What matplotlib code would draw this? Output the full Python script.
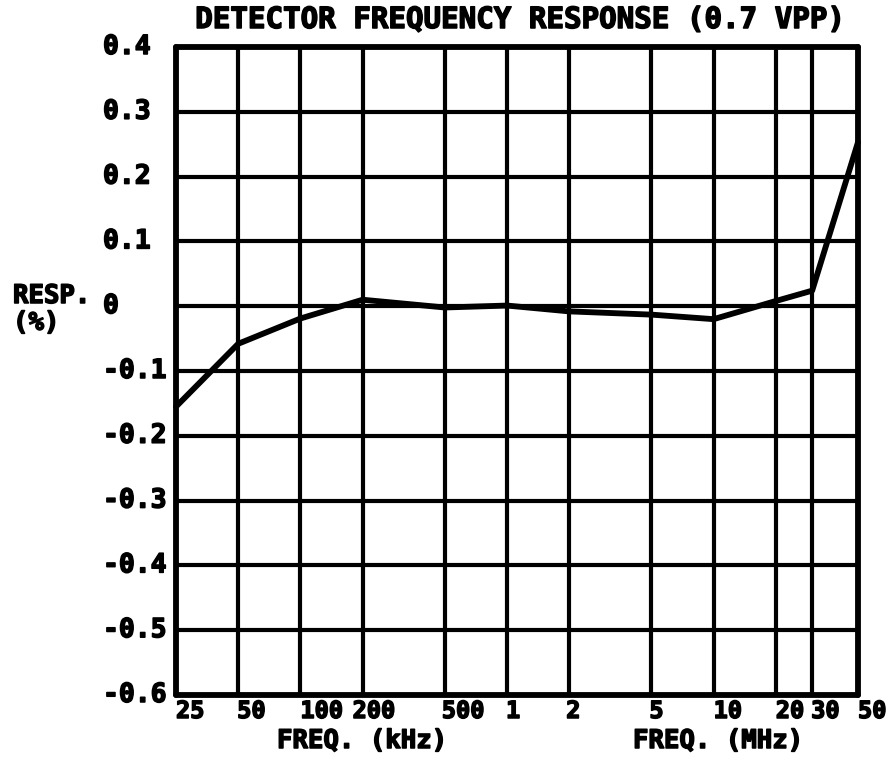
import matplotlib
matplotlib.use("Agg")
import matplotlib.pyplot as plt
import matplotlib.transforms as mtransforms
import matplotlib.patheffects as pe

# ---- data ----
freqs_hz = [25e3, 50e3, 100e3, 200e3, 500e3, 1e6, 2e6, 5e6, 10e6, 20e6, 30e6, 50e6]
freq_labels = ["25", "50", "100", "200", "500", "1", "2", "5", "10", "20", "30", "50"]
response_pct = [-0.155, -0.058, -0.019, 0.010, -0.002, 0.001, -0.008, -0.013, -0.020, 0.008, 0.024, 0.253]
y_ticks = [0.4, 0.3, 0.2, 0.1, 0.0, -0.1, -0.2, -0.3, -0.4, -0.5, -0.6]
y_labels = ["0.4", "0.3", "0.2", "0.1", "0", "-0.1", "-0.2", "-0.3", "-0.4", "-0.5", "-0.6"]
title = "DETECTOR FREQUENCY RESPONSE (0.7 VPP)"

# label horizontal nudges in pixels (style)
xlabel_nudge_px = [0, -1, 0, -10, -3, -1, -3, -2, 0, 0, -1, 0]

W, H, DPI = 890, 757, 100
FONT = "DejaVu Sans Mono"
BOLD = [pe.withStroke(linewidth=1.1, foreground="black")]
fig = plt.figure(figsize=(W / DPI, H / DPI), dpi=DPI)
fig.patch.set_facecolor("white")

L, R, T, B = 176, 858, 47, 695
ax = fig.add_axes([L / W, 1 - B / H, (R - L) / W, (B - T) / H])
ax.set_xscale("log")
ax.set_xlim(freqs_hz[0], freqs_hz[-1])
ax.set_ylim(-0.6, 0.4)

ax.set_xticks(freqs_hz)
ax.set_xticklabels([])
ax.xaxis.set_minor_locator(matplotlib.ticker.NullLocator())
ax.set_yticks(y_ticks)
ax.set_yticklabels([])
ax.tick_params(length=0)
ax.grid(True, which="major", color="black", linewidth=3.0)
ax.set_axisbelow(True)
for s in ax.spines.values():
    s.set_linewidth(4.2)
    s.set_color("black")
    s.set_capstyle("round")

ax.plot(freqs_hz, response_pct, color="black", linewidth=4.2, solid_joinstyle="round",
        solid_capstyle="round", zorder=5, clip_on=False)

def txt(x, y, s, size, transform, ha="left"):
    t = fig.text(x, y, s, transform=transform, ha=ha, va="center", fontsize=size,
                 fontweight="bold", family=FONT)
    t.set_path_effects(BOLD)
    return t

# y tick labels, left aligned at x=103 px
ytr = mtransforms.blended_transform_factory(fig.transFigure, ax.transData)
for v, lab in zip(y_ticks, y_labels):
    txt(103 / W, v, lab, 19, ytr)

# x tick labels
xtr = mtransforms.blended_transform_factory(ax.transData, fig.transFigure)
for f, lab, dx in zip(freqs_hz, freq_labels, xlabel_nudge_px):
    tr = mtransforms.offset_copy(xtr, fig=fig, x=dx * 72 / DPI, y=0, units="points")
    txt(f, 1 - 711 / H, lab, 17, tr)

txt(277 / W, 1 - 741 / H, "FREQ. (kHz)", 18.5, fig.transFigure)
txt(633 / W, 1 - 741 / H, "FREQ. (MHz)", 18.5, fig.transFigure)

txt(13 / W, 1 - 296 / H, "RESP.", 18.5, fig.transFigure)
txt(13 / W, 1 - 323 / H, "(%)", 18.5, fig.transFigure)

txt(519 / W, 1 - 20 / H, title, 21, fig.transFigure, ha="center")

fig.savefig("out.png", dpi=DPI, facecolor="white")
